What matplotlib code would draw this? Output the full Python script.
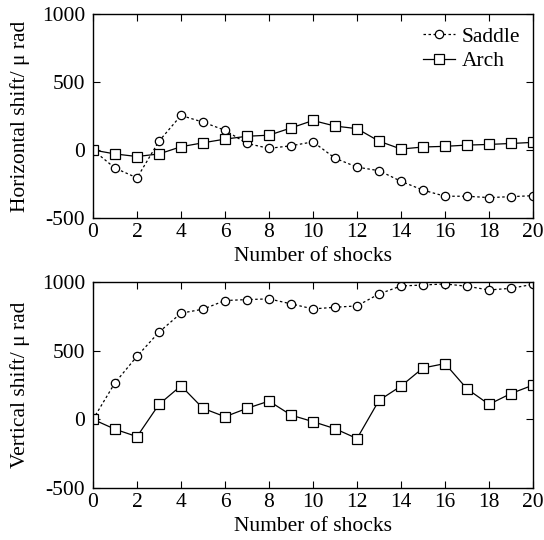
import numpy as np
import matplotlib
matplotlib.use("Agg")
from matplotlib import pyplot as plt

plt.rcParams['font.family'] = ['Liberation Serif', 'DejaVu Serif']
plt.rcParams['font.size'] = 15.5
plt.rcParams['axes.unicode_minus'] = False

shocks = np.arange(0, 21)

# horizontal shift (top panel)
saddle_h = [0, -133, -205, 65, 254, 205, 145, 48, 12, 31, 60,
            -60, -126, -152, -230, -295, -340, -340, -350, -343, -336]
arch_h = [0, -29, -48, -29, 24, 53, 80, 101, 109, 162, 217,
          176, 157, 65, 7, 22, 27, 36, 41, 48, 56]

# vertical shift (bottom panel)
saddle_v = [0, 266, 459, 635, 773, 802, 865, 872, 877, 841, 804,
            816, 826, 913, 971, 978, 986, 969, 942, 954, 983]
arch_v = [0, -72, -126, 109, 244, 80, 19, 80, 133, 31, -17,
          -68, -140, 138, 242, 374, 406, 222, 109, 188, 249]

xticks = np.arange(0, 21, 2)
yticks = [-500, 0, 500, 1000]

fig = plt.figure(figsize=(5.44, 5.40), dpi=100)
ax1 = fig.add_axes([93/544, 1 - 218/540, 440/544, 204/540])
ax2 = fig.add_axes([93/544, 1 - 488/540, 440/544, 206/540])

def draw(ax, saddle, arch, ylab, legend=False):
    ax.plot(shocks, saddle, color='black', linestyle=(0, (2, 2)), linewidth=0.9,
            marker='o', markersize=6, markerfacecolor='white',
            markeredgecolor='black', markeredgewidth=0.9, label='Saddle')
    ax.plot(shocks, arch, color='black', linestyle='-', linewidth=0.9,
            marker='s', markersize=7, markerfacecolor='white',
            markeredgecolor='black', markeredgewidth=0.9, label='Arch')
    ax.set_xlim(0, 20)
    ax.set_ylim(-500, 1000)
    ax.set_xticks(xticks)
    ax.set_yticks(yticks)
    ax.tick_params(direction='in', top=True, right=True, length=5, width=0.8)
    ax.tick_params(axis='x', pad=3.5)
    ax.tick_params(axis='y', pad=5.5)
    ax.set_xlabel('Number of shocks', labelpad=4)
    ax.set_ylabel(ylab, labelpad=9)
    for s in ax.spines.values():
        s.set_linewidth(1.0)
    if legend:
        ax.legend(loc='upper right', frameon=False, handlelength=1.5,
                  handletextpad=0.3, borderaxespad=0.2, labelspacing=0.2)

draw(ax1, saddle_h, arch_h, 'Horizontal shift/ μ rad', legend=True)
draw(ax2, saddle_v, arch_v, 'Vertical shift/ μ rad')

fig.savefig('out.png', dpi=100)
